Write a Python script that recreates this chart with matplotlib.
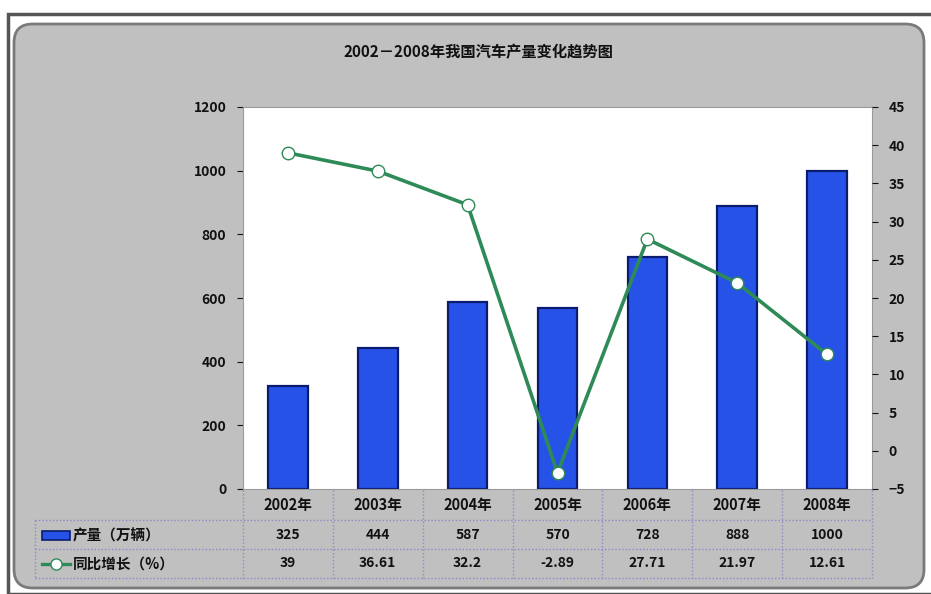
import matplotlib.pyplot as plt
from matplotlib.patches import FancyBboxPatch, Rectangle
from matplotlib.lines import Line2D

plt.rcParams['font.family'] = ['Noto Sans CJK SC', 'DejaVu Sans']

years = ["2002年", "2003年", "2004年", "2005年", "2006年", "2007年", "2008年"]
output = [325, 444, 587, 570, 728, 888, 1000]
growth = [39, 36.61, 32.2, -2.89, 27.71, 21.97, 12.61]
output_labels = ["325", "444", "587", "570", "728", "888", "1000"]
growth_labels = ["39", "36.61", "32.2", "-2.89", "27.71", "21.97", "12.61"]

W, H = 931, 594
fig = plt.figure(figsize=(W / 100, H / 100), dpi=100)
fig.patch.set_facecolor("white")


def fx(px):
    return px / W


def fy(py):
    return 1 - py / H


# outer frame and rounded chart area (behind the axes)
fig.patches.append(Rectangle((fx(8), fy(594)), fx(940), 580 / H, transform=fig.transFigure,
                             facecolor="white", edgecolor="#555555", lw=2.5, zorder=-3))
fig.patches.append(FancyBboxPatch((fx(14), fy(588)), fx(910), 564 / H,
                                  boxstyle="round,pad=0,rounding_size=0.02",
                                  transform=fig.transFigure, mutation_aspect=W / H,
                                  facecolor="#c0c0c0", edgecolor="#7a7a7a", lw=2, zorder=-2))

fig.text(fx(478), fy(52), "2002－2008年我国汽车产量变化趋势图", ha="center", va="center",
         fontsize=11, fontweight="bold", color="#111111")

ax = fig.add_axes([fx(243), fy(489), fx(872 - 243), (489 - 107) / H])
ax.set_facecolor("white")
x = list(range(len(years)))
ax.bar(x, output, width=0.44, color="#2752e8", edgecolor="#0b1c6e", lw=1.6, zorder=2)
ax.set_xlim(-0.5, 6.5)
ax.set_ylim(0, 1200)
ax.set_yticks(range(0, 1201, 200))
ax.set_xticks([])
for s in ax.spines.values():
    s.set_color("#9a9a9a")
ax.tick_params(axis="y", labelsize=10, colors="#111111", length=4, pad=8)

ax2 = ax.twinx()
ax2.plot(x, growth, color="#2e8a57", lw=2.6, marker="o", markersize=9,
         markerfacecolor="white", markeredgecolor="#2e8a57", markeredgewidth=1, zorder=3)
ax2.set_ylim(-5, 45)
ax2.set_yticks(range(-5, 46, 5))
for s in ax2.spines.values():
    s.set_visible(False)
ax2.tick_params(axis="y", labelsize=10, colors="#111111", length=4, pad=8)
for lab in ax.get_yticklabels() + ax2.get_yticklabels():
    lab.set_fontweight("bold")

# data table under the plot
tr = ax.get_xaxis_transform()
for i in x:
    ax.text(i, -0.042, years[i], transform=tr, ha="center", va="center", fontsize=10.5,
            fontweight="bold", color="#111111", clip_on=False)
    ax.text(i, -0.12, output_labels[i], transform=tr, ha="center", va="center", fontsize=10,
            fontweight="bold", color="#111111", clip_on=False)
    ax.text(i, -0.195, growth_labels[i], transform=tr, ha="center", va="center", fontsize=10,
            fontweight="bold", color="#111111", clip_on=False)

grid_kw = dict(color="#8a8ac8", lw=1, ls=(0, (1, 1.5)), transform=fig.transFigure)
for py in [520, 549, 578]:
    fig.lines.append(Line2D([fx(35), fx(872)], [fy(py), fy(py)], **grid_kw))
for k in range(8):
    px = 243 + k * (872 - 243) / 7
    fig.lines.append(Line2D([fx(px), fx(px)], [fy(490), fy(578)], **grid_kw))
fig.lines.append(Line2D([fx(35), fx(35)], [fy(520), fy(578)], **grid_kw))

# legend keys inside table
fig.patches.append(Rectangle((fx(42), fy(540)), fx(28), 9 / H, transform=fig.transFigure,
                             facecolor="#2752e8", edgecolor="#0b1c6e", lw=1.2))
fig.text(fx(73), fy(535), "产量（万辆）", ha="left", va="center", fontsize=10.5,
         fontweight="bold", color="#111111")
fig.lines.append(Line2D([fx(42), fx(70)], [fy(564), fy(564)], color="#2e8a57", lw=2.4,
                        transform=fig.transFigure))
fig.lines.append(Line2D([fx(56)], [fy(564)], marker="o", markersize=8, markerfacecolor="white",
                        markeredgecolor="#2e8a57", transform=fig.transFigure))
fig.text(fx(73), fy(564), "同比增长（%）", ha="left", va="center", fontsize=10.5,
         fontweight="bold", color="#111111")

fig.savefig("out.png", dpi=100)
